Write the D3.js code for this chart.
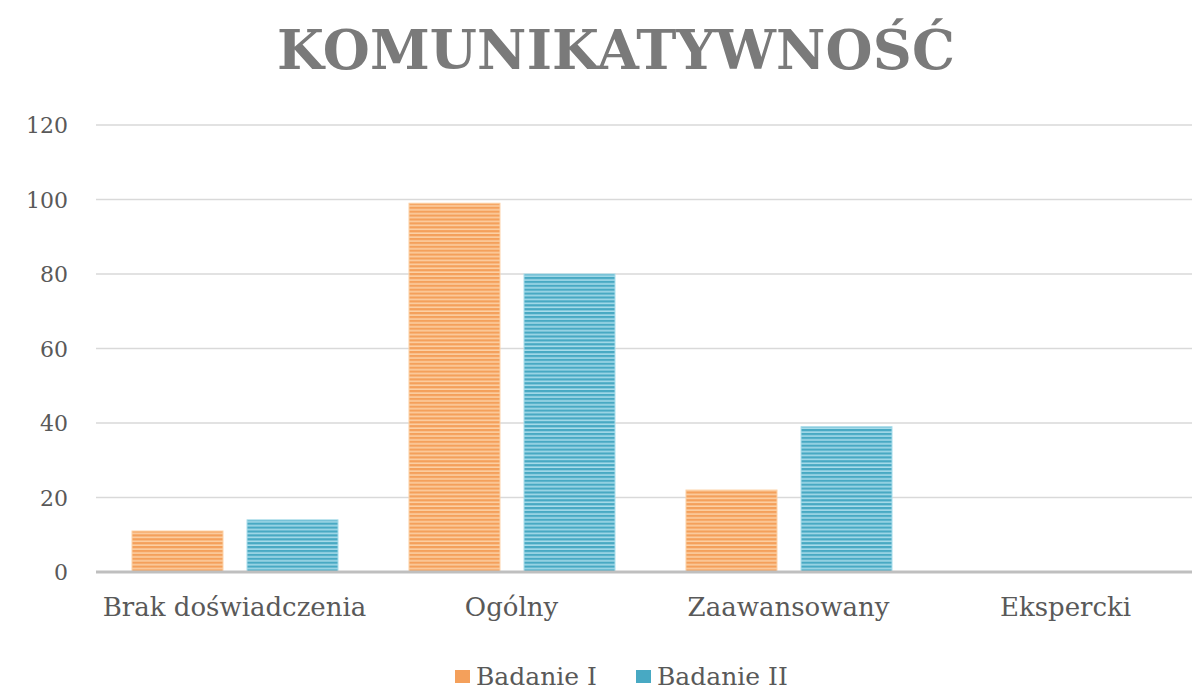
<!DOCTYPE html>
<html>
<head>
<meta charset="utf-8">
<script src="https://cdn.jsdelivr.net/npm/d3@7"></script>
<style>
  body { margin: 0; background: #fff; }
  svg text { font-family: "DejaVu Serif", "Liberation Serif", serif; }
</style>
</head>
<body>
<div id="chart"></div>
<script>
var width = 1192, height = 691;

var categories = ["Brak doświadczenia", "Ogólny", "Zaawansowany", "Ekspercki"];
var seriesNames = ["Badanie I", "Badanie II"];
var badanie1 = [11, 99, 22, 0];
var badanie2 = [14, 80, 39, 0];
var yTicks = [0, 20, 40, 60, 80, 100, 120];

var colors = [
  {dark: "#f4a05b", light: "#fcd0a4"},
  {dark: "#48a9c3", light: "#a8dcea"}
];

var margin = {left: 96, right: -12, top: 125, bottom: 119};

var svg = d3.select("#chart").append("svg")
  .attr("width", width)
  .attr("height", height);

// horizontal stripe fills
var defs = svg.append("defs");
colors.forEach(function(c, i) {
  var p = defs.append("pattern")
    .attr("id", "stripe" + i)
    .attr("patternUnits", "userSpaceOnUse")
    .attr("width", 8)
    .attr("height", 3.9);
  p.append("rect").attr("width", 8).attr("height", 3.9).attr("fill", c.light);
  p.append("rect").attr("width", 8).attr("height", 2.3).attr("fill", c.dark);
});

var x = d3.scaleBand()
  .domain(categories)
  .range([margin.left, width - margin.right]);

var y = d3.scaleLinear()
  .domain([0, 120])
  .range([height - margin.bottom, margin.top]);

var inner = d3.scaleBand()
  .domain(seriesNames)
  .range([36, x.bandwidth() - 35])
  .paddingInner(0.209)
  .paddingOuter(0);

// title
svg.append("text")
  .attr("x", 616)
  .attr("y", 69)
  .attr("text-anchor", "middle")
  .attr("textLength", 678)
  .attr("lengthAdjust", "spacing")
  .style("font-size", "54px")
  .style("font-weight", "bold")
  .style("fill", "#7a7a7a")
  .text("KOMUNIKATYWNOŚĆ");

// gridlines
svg.selectAll("line.grid")
  .data(yTicks.filter(function(d) { return d > 0; }))
  .enter().append("line")
  .attr("class", "grid")
  .attr("x1", margin.left)
  .attr("x2", width)
  .attr("y1", function(d) { return y(d); })
  .attr("y2", function(d) { return y(d); })
  .attr("stroke", "#d9d9d9")
  .attr("stroke-width", 1.5);

// y labels
svg.selectAll("text.ytick")
  .data(yTicks).enter()
  .append("text")
  .attr("class", "ytick")
  .attr("x", 68)
  .attr("y", function(d) { return y(d) + 8; })
  .attr("text-anchor", "end")
  .style("font-size", "22px")
  .style("fill", "#595959")
  .text(function(d) { return d; });

// bars
var series = [badanie1, badanie2];
series.forEach(function(vals, s) {
  svg.selectAll("rect.s" + s)
    .data(vals).enter()
    .append("rect")
    .attr("class", "s" + s)
    .attr("x", function(d, i) { return x(categories[i]) + inner(seriesNames[s]); })
    .attr("width", inner.bandwidth())
    .attr("y", function(d) { return y(d); })
    .attr("height", function(d) { return y(0) - y(d); })
    .attr("fill", "url(#stripe" + s + ")")
    .attr("stroke", colors[s].light)
    .attr("stroke-width", 1);
});

// baseline
svg.append("line")
  .attr("x1", margin.left)
  .attr("x2", width)
  .attr("y1", y(0))
  .attr("y2", y(0))
  .attr("stroke", "#bfbfbf")
  .attr("stroke-width", 3);

// x labels
svg.selectAll("text.xtick")
  .data(categories).enter()
  .append("text")
  .attr("class", "xtick")
  .attr("x", function(d) { return x(d) + x.bandwidth() / 2; })
  .attr("y", 616)
  .attr("text-anchor", "middle")
  .style("font-size", "26px")
  .style("fill", "#595959")
  .text(function(d) { return d; });

// legend
var legendX = [455, 636];
var legend = svg.selectAll("g.legend")
  .data(seriesNames).enter()
  .append("g")
  .attr("class", "legend")
  .attr("transform", function(d, i) { return "translate(" + legendX[i] + ",685)"; });

legend.append("rect")
  .attr("x", 0)
  .attr("y", -15)
  .attr("width", 15)
  .attr("height", 13)
  .attr("fill", function(d, i) { return colors[i].dark; });

legend.append("text")
  .attr("x", 21)
  .attr("y", 0)
  .style("font-size", "25px")
  .style("fill", "#595959")
  .text(function(d) { return d; });
</script>
</body>
</html>
